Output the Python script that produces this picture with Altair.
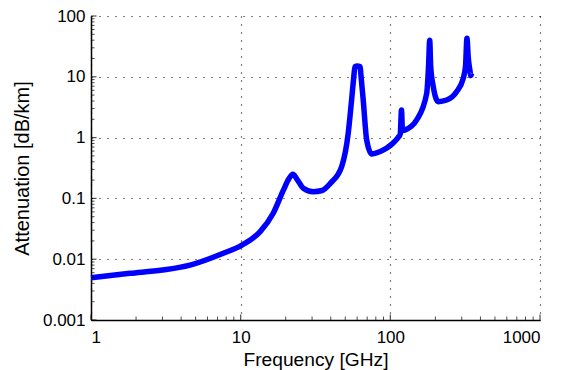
import altair as alt
import pandas as pd

freq = [1, 1.82, 3, 4.59, 7.65, 10.2, 13.5, 16.5, 19.3, 21, 22.3, 24, 26.2, 30.5, 35, 40,
        47.3, 52.3, 55.1, 57, 58, 60, 62.7, 64, 65.9, 69.5, 75, 85, 104, 113, 116.5,
        118.75, 120.5, 125, 150, 175, 180, 183.3, 186, 193.6, 209, 238, 277, 307, 318,
        325, 332, 340, 345, 349]
atten = [0.00497, 0.00586, 0.00664, 0.0080, 0.0125, 0.0171, 0.0284, 0.0569, 0.137, 0.21,
         0.25, 0.20, 0.147, 0.129, 0.135, 0.18, 0.333, 1.17, 4.15, 10, 14.7, 15, 14.7, 9,
         4.15, 0.91, 0.537, 0.586, 0.805, 1.01, 1.15, 2.84, 1.3, 1.33, 1.95, 5.35, 15, 40,
         15, 6.9, 3.9, 4.15, 5.69, 9.44, 15, 43, 20, 12.9, 10.5, 11.4]

x_major = [1, 10, 100, 1000]
y_major = [0.001, 0.01, 0.1, 1, 10, 100]
minor_mult = [2, 3, 4, 5, 6, 7, 8, 9]

x_minor = [m * d for d in [1, 10, 100] for m in minor_mult]
y_minor = [m * d for d in [0.001, 0.01, 0.1, 1, 10] for m in minor_mult]

df = pd.DataFrame({"f": freq, "a": atten})

FONT = "Liberation Sans"
xscale = alt.Scale(type="log", domain=[1, 1000], nice=False)
yscale = alt.Scale(type="log", domain=[0.001, 100], nice=False)

line = alt.Chart(df).mark_line(color="#0000FF", strokeWidth=5.5, interpolate="monotone",
                               strokeJoin="round").encode(
    x=alt.X("f:Q", scale=xscale,
            axis=alt.Axis(values=x_major, format="~g", title="Frequency [GHz]",
                          grid=True, gridDash=[1, 7], gridColor="black", gridWidth=1.2,
                          tickSize=0, labelPadding=9, titlePadding=5, titleFontSize=19.2,
                          domainColor="black", domainWidth=1.5)),
    y=alt.Y("a:Q", scale=yscale,
            axis=alt.Axis(values=y_major, format="~g", title="Attenuation [dB/km]",
                          grid=True, gridDash=[1, 7], gridColor="black", gridWidth=1.2,
                          tickSize=0, labelPadding=6, titlePadding=10, titleFontSize=20,
                          domainColor="black", domainWidth=1.5)),
)

xt_minor = alt.Chart(pd.DataFrame({"f": x_minor})).mark_tick(
    orient="vertical", color="black", thickness=1, size=3.5, yOffset=-1.75).encode(
    x=alt.X("f:Q", scale=xscale), y=alt.datum(0.001, scale=yscale))
xt_major = alt.Chart(pd.DataFrame({"f": x_major})).mark_tick(
    orient="vertical", color="black", thickness=1.2, size=5.5, yOffset=-2.75).encode(
    x=alt.X("f:Q", scale=xscale), y=alt.datum(0.001, scale=yscale))
yt_minor = alt.Chart(pd.DataFrame({"a": y_minor})).mark_tick(
    orient="horizontal", color="black", thickness=1, size=3.5, xOffset=1.75).encode(
    y=alt.Y("a:Q", scale=yscale), x=alt.datum(1, scale=xscale))
yt_major = alt.Chart(pd.DataFrame({"a": y_major})).mark_tick(
    orient="horizontal", color="black", thickness=1.2, size=5.5, xOffset=2.75).encode(
    y=alt.Y("a:Q", scale=yscale), x=alt.datum(1, scale=xscale))

chart = alt.layer(line, xt_minor, xt_major, yt_minor, yt_major).properties(
    width=449, height=304,
    autosize=alt.AutoSizeParams(type="none"),
    padding={"left": 91, "top": 16, "right": 22, "bottom": 50},
    background="white",
).configure_view(stroke=None).configure_axis(
    labelFont=FONT, titleFont=FONT, labelFontSize=17,
    labelColor="black", titleColor="black", titleFontWeight="normal",
)

chart.save("out.html", embed_options={"renderer": "svg", "actions": False})
